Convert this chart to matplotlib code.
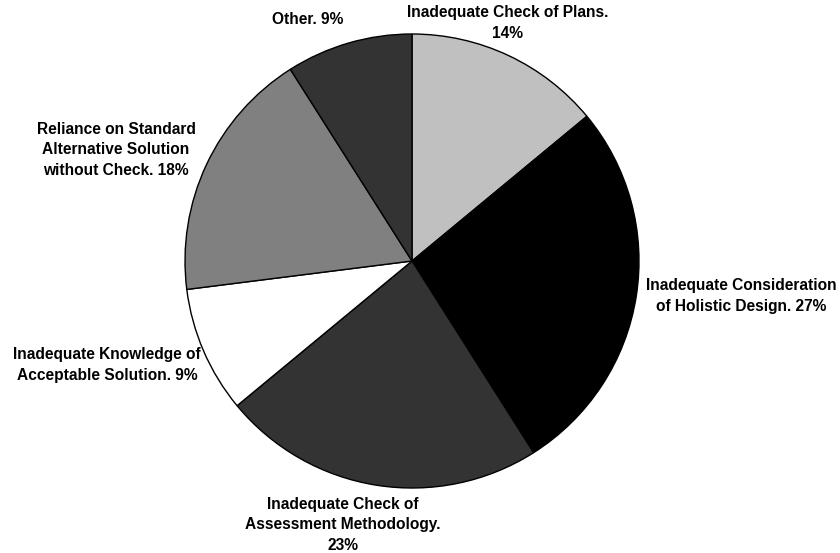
import matplotlib.pyplot as plt

plt.rcParams['font.family'] = ['Liberation Sans', 'DejaVu Sans']

# slices, clockwise from the top
labels = [
    "Inadequate Check of Plans.\n14%",
    "Inadequate Consideration\nof Holistic Design. 27%",
    "Inadequate Check of\nAssessment Methodology.\n23%",
    "Inadequate Knowledge of\nAcceptable Solution. 9%",
    "Reliance on Standard\nAlternative Solution\nwithout Check. 18%",
    "Other. 9%",
]
values = [14, 27, 23, 9, 18, 9]
colors = ["#C0C0C0", "#000000", "#333333", "#FFFFFF", "#808080", "#333333"]

# label centres in pixels (x, y from top)
label_pos = [(508, 23), (741, 296), (343, 525), (107, 365), (116, 150), (308, 20)]

W, H = 840, 553
fig = plt.figure(figsize=(W / 100, H / 100), dpi=100)

cx, cy, r = 412, 261, 227
ax = fig.add_axes([(cx - r) / W, (H - cy - r) / H, 2 * r / W, 2 * r / H])
ax.pie(values, colors=colors, startangle=90, counterclock=False,
       wedgeprops=dict(edgecolor="black", linewidth=1))
ax.set_xlim(-1, 1)
ax.set_ylim(-1, 1)
ax.set_aspect("equal")
ax.axis("off")

for lab, (x, y) in zip(labels, label_pos):
    fig.text(x / W, 1 - y / H, lab, ha="center", va="center",
             fontsize=11.2, fontweight="bold", linespacing=1.45)

fig.savefig("out.png", dpi=100, facecolor="white")
